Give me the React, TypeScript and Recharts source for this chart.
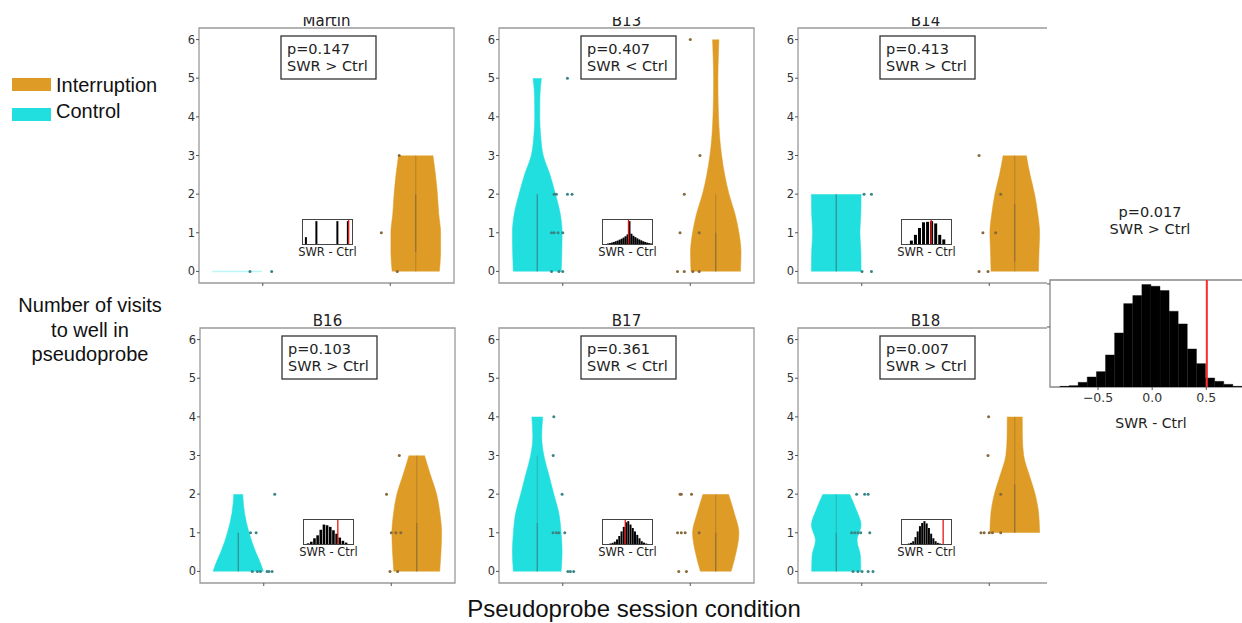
import React from "react";
import {
  Area,
  Bar,
  BarChart,
  ComposedChart,
  ReferenceArea,
  ReferenceLine,
  Scatter,
  XAxis,
  YAxis,
} from "recharts";

const ORANGE = "#de9b25";
const CYAN = "#21dfdf";
const CTRL_DOT = "#3a8585";
const INT_DOT = "#86693a";
const MPL_FONT = "'DejaVu Sans', sans-serif";
const SANS = "'Liberation Sans', Arial, sans-serif";

// ---- data ----
const animals = ["Martin", "B13", "B14", "B16", "B17", "B18"];
const pValues = ["p=0.147", "p=0.407", "p=0.413", "p=0.103", "p=0.361", "p=0.007"];
const directions = ["SWR > Ctrl", "SWR < Ctrl", "SWR > Ctrl", "SWR > Ctrl", "SWR < Ctrl", "SWR > Ctrl"];
const visitTicks = [0, 1, 2, 3, 4, 5, 6];

// violin half-widths, [visits, half width]
const ctrlProfiles: [number, number][][] = [
  [[0, 0.195]],
  [[0, 0.188], [0.5, 0.193], [1, 0.195], [1.5, 0.18], [2, 0.143], [2.5, 0.1], [3, 0.047], [3.5, 0.027], [4, 0.02], [4.5, 0.021], [5, 0.033]],
  [[0, 0.195], [0.5, 0.193], [1, 0.186], [1.5, 0.193], [2, 0.195]],
  [[0, 0.198], [0.25, 0.17], [0.5, 0.137], [1, 0.085], [1.5, 0.05], [2, 0.035]],
  [[0, 0.1875], [0.5, 0.195], [1, 0.1875], [1.5, 0.17], [2, 0.13], [2.5, 0.091], [3, 0.052], [3.5, 0.035], [4, 0.043]],
  [[0, 0.193], [0.4, 0.19], [0.8, 0.163], [1.2, 0.195], [1.6, 0.156], [2, 0.105]],
];
const intProfiles: [number, number][][] = [
  [[0, 0.185], [0.5, 0.195], [1, 0.195], [1.5, 0.18], [2, 0.17], [2.5, 0.155], [3, 0.135]],
  [[0, 0.194], [0.5, 0.198], [1, 0.182], [1.5, 0.15], [2, 0.104], [2.5, 0.07], [3, 0.046], [3.5, 0.03], [4, 0.022], [4.5, 0.018], [5, 0.017], [5.5, 0.02], [6, 0.025]],
  [[0, 0.186], [0.5, 0.19], [1, 0.195], [1.5, 0.18], [2, 0.156], [2.5, 0.12], [3, 0.091]],
  [[0, 0.18], [0.5, 0.19], [1, 0.195], [1.5, 0.182], [2, 0.156], [2.5, 0.107], [3, 0.061]],
  [[0, 0.12], [0.5, 0.16], [1, 0.182], [1.5, 0.146], [2, 0.1]],
  [[1, 0.195], [1.5, 0.1875], [2, 0.16], [2.5, 0.113], [3, 0.07], [3.5, 0.06], [4, 0.059]],
];

// inner whisker and box ranges
const ctrlWhisker = [[0, 0], [0, 2], [0, 2], [0, 1], [0, 3], [0, 2]];
const ctrlBox = [[0, 0], [0, 2], [0, 2], [0, 1], [0, 1.25], [0, 1]];
const intWhisker = [[0, 3], [0, 2], [0, 3], [0, 3], [0, 2], [1, 4]];
const intBox = [[0.5, 2], [0, 1], [0.25, 1.75], [0, 1.25], [0, 1], [1, 2.25]];

// strip plot points, [condition coordinate, visits]
const ctrlDots: [number, number][][] = [
  [[-0.1, 0], [0.07, 0]],
  [[0.037, 5], [-0.068, 2], [-0.05, 2], [0.037, 2], [0.073, 2], [-0.088, 1], [-0.068, 1], [-0.037, 1], [0, 1], [-0.088, 0], [-0.03, 0], [0, 0]],
  [[0.018, 2], [0.076, 2], [0.002, 0], [0.076, 0]],
  [[0.086, 2], [-0.104, 1], [-0.06, 1], [-0.09, 0], [-0.05, 0], [-0.026, 0], [0.026, 0], [0.04, 0], [0.065, 0]],
  [[-0.07, 4], [-0.075, 3], [-0.005, 2], [-0.076, 1], [-0.05, 1], [-0.031, 1], [0.016, 1], [0.04, 0], [0.06, 0], [0.086, 0]],
  [[-0.04, 2], [0.023, 2], [0.05, 2], [-0.08, 1], [-0.055, 1], [-0.03, 1], [-0.008, 1], [0.063, 1], [-0.068, 0], [-0.03, 0], [0.002, 0], [0.05, 0], [0.088, 0]],
];
const intDots: [number, number][][] = [
  [[0.93, 1], [1.055, 0], [1.07, 3]],
  [[1.0, 6], [1.076, 3], [0.953, 2], [0.92, 1], [1.07, 1], [0.9, 0], [0.953, 0], [1.02, 0], [1.07, 0]],
  [[0.92, 3], [1.09, 2], [0.95, 1], [1.05, 1], [0.92, 0], [0.99, 0]],
  [[1.063, 3], [0.963, 2], [1.0, 1], [1.036, 1], [1.075, 1], [0.99, 0], [1.05, 0]],
  [[0.92, 2], [0.93, 2], [1.01, 2], [0.9, 1], [0.93, 1], [0.96, 1], [1.07, 1], [0.91, 0], [0.97, 0]],
  [[0.995, 4], [0.99, 3], [1.09, 2], [0.935, 1], [0.96, 1], [1.0, 1], [1.025, 1], [1.09, 1]],
];

// small permutation histograms (bin index -> relative count)
const insetCounts = [
  [0.3, 1, 0, 1, 1],
  [0.02, 0.04, 0.06, 0.09, 0.12, 0.15, 0.19, 0.23, 0.28, 0.34, 0.42, 1.0, 0.45, 0.36, 0.3, 0.25, 0.2, 0.16, 0.12, 0.09, 0.06, 0.04, 0.02],
  [0.15, 0.4, 0.7, 0.95, 0.97, 1.0, 0.9, 0.4, 0.2],
  [0.03, 0.1, 0.25, 0.38, 0.62, 0.85, 0.82, 0.75, 0.6, 0.45, 0.28, 0.14, 0.06],
  [0.02, 0.05, 0.1, 0.2, 0.35, 0.55, 0.75, 0.95, 1.0, 0.85, 0.7, 0.55, 0.4, 0.25, 0.12, 0.06, 0.02],
  [0.02, 0.05, 0.12, 0.3, 0.55, 0.78, 0.92, 1.0, 0.9, 0.7, 0.45, 0.25, 0.12, 0.05, 0.02],
];
const insetObserved = [4.05, 10.5, 5, 9.3, 6.6, 15.3];
const insetRange: [number, number][] = [[-0.3, 4.37], [-2.5, 22.5], [-2.2, 9.9], [-1.4, 14.1], [-3.3, 18.5], [-3.06, 18.8]];

// pooled permutation histogram
const pooledBins = [-0.81, -0.726, -0.642, -0.558, -0.473, -0.389, -0.305, -0.221, -0.137, -0.053, 0.031, 0.115, 0.199, 0.283, 0.368, 0.452, 0.536, 0.62, 0.704, 0.788];
const pooledCounts = [2, 4, 14, 30, 46, 96, 162, 250, 274, 307, 302, 289, 227, 189, 114, 70, 27, 17, 8, 2];
const pooledObserved = 0.505;
const pooledTicks = [-0.5, 0, 0.5];
const pooledTitle = ["p=0.017", "SWR > Ctrl"];

// ---- layout ----
const FRAME = 255;
const AXIS_W = 30;
const X_AXIS_H = 6;
const CLIP_X = 1047;
const CTRL_X = -0.2;
const INT_X = 1.2;
const panelBoxes = [
  { left: 199, top: 28 },
  { left: 499, top: 28 },
  { left: 798, top: 28 },
  { left: 200, top: 328 },
  { left: 499, top: 328 },
  { left: 798, top: 328 },
];
const insetBarSize: (number | undefined)[] = [2, undefined, 3, 2.6, undefined, undefined];

const dotShape = (props: any) => (
  <circle cx={props.cx} cy={props.cy} r={1.5} fill={props.fill} />
);

function ViolinPanel({ index }: { index: number }) {
  const box = panelBoxes[index];
  const outerLeft = box.left - AXIS_W;
  const fullWidth = AXIS_W + FRAME + 2;
  const height = FRAME + X_AXIS_H + 2;
  const visibleWidth = Math.min(fullWidth, CLIP_X - outerLeft);

  const ctrl = ctrlProfiles[index];
  const intr = intProfiles[index];
  const ctrlData = ctrl.map(([y, w]) => ({ y, band: [CTRL_X - w, CTRL_X + w] }));
  const intData = intr.map(([y, w]) => ({ y, band: [INT_X - w, INT_X + w] }));
  const ctrlPts = ctrlDots[index].map(([x, y]) => ({ x, y }));
  const intPts = intDots[index].map(([x, y]) => ({ x, y }));

  const inner = (c: number, range: number[], width: number, opacity: number, key: string) =>
    range[1] > range[0] ? (
      <ReferenceLine
        key={key}
        segment={[{ x: c, y: range[0] }, { x: c, y: range[1] }]}
        stroke="#444"
        strokeWidth={width}
        strokeOpacity={opacity}
        ifOverflow="visible"
      />
    ) : null;

  return (
    <div
      style={{
        position: "absolute",
        left: outerLeft,
        top: box.top - 1,
        width: visibleWidth,
        height,
        overflow: "hidden",
      }}
    >
      <ComposedChart
        layout="vertical"
        width={fullWidth}
        height={height}
        margin={{ top: 1, right: 2, bottom: 1, left: 0 }}
      >
        <XAxis
          type="number"
          dataKey="x"
          domain={[-0.5, 1.5]}
          ticks={[0, 1]}
          tickFormatter={() => ""}
          tickSize={3}
          axisLine={false}
          tickLine={{ stroke: "#555" }}
          height={X_AXIS_H}
          allowDataOverflow
        />
        <YAxis
          type="number"
          dataKey="y"
          domain={[-0.3, 6.3]}
          ticks={visitTicks}
          reversed
          interval={0}
          width={AXIS_W}
          tickSize={3}
          tickMargin={1}
          axisLine={false}
          tickLine={{ stroke: "#555" }}
          tick={{ fill: "#333", fontSize: 11.5, fontFamily: MPL_FONT }}
          allowDataOverflow
        />
        <ReferenceArea
          x1={-0.5}
          x2={1.5}
          y1={-0.3}
          y2={6.3}
          fill="none"
          stroke="#9a9a9a"
          strokeWidth={1.3}
          ifOverflow="visible"
        />
        {ctrl.length > 1 ? (
          <Area
            data={ctrlData}
            dataKey="band"
            type="monotone"
            fill={CYAN}
            fillOpacity={1}
            stroke={CYAN}
            strokeWidth={0.5}
            dot={false}
            activeDot={false}
            isAnimationActive={false}
          />
        ) : (
          <ReferenceLine
            segment={[
              { x: CTRL_X - ctrl[0][1], y: ctrl[0][0] },
              { x: CTRL_X + ctrl[0][1], y: ctrl[0][0] },
            ]}
            stroke={CYAN}
            strokeOpacity={0.3}
            strokeWidth={1.5}
            ifOverflow="visible"
          />
        )}
        <Area
          data={intData}
          dataKey="band"
          type="monotone"
          fill={ORANGE}
          fillOpacity={1}
          stroke={ORANGE}
          strokeWidth={0.5}
          dot={false}
          activeDot={false}
          isAnimationActive={false}
        />
        {inner(CTRL_X, ctrlWhisker[index], 1, 0.28, "cw")}
        {inner(CTRL_X, ctrlBox[index], 1.2, 0.35, "cb")}
        {inner(INT_X, intWhisker[index], 1, 0.28, "iw")}
        {inner(INT_X, intBox[index], 1.2, 0.35, "ib")}
        <Scatter data={ctrlPts} fill={CTRL_DOT} shape={dotShape} isAnimationActive={false} />
        <Scatter data={intPts} fill={INT_DOT} shape={dotShape} isAnimationActive={false} />
      </ComposedChart>
    </div>
  );
}

function Inset({ index }: { index: number }) {
  const box = panelBoxes[index];
  const data = insetCounts[index].map((c, k) => ({ k, c }));
  return (
    <div
      style={{
        position: "absolute",
        left: box.left + 103,
        top: box.top + 191,
        width: 51,
        height: 26,
        border: "1px solid #444",
        boxSizing: "border-box",
        background: "#fff",
      }}
    >
      <BarChart
        width={49}
        height={24}
        data={data}
        margin={{ top: 0, right: 0, bottom: 0, left: 0 }}
        barCategoryGap={0}
        barGap={0}
      >
        <XAxis type="number" dataKey="k" domain={insetRange[index]} hide allowDataOverflow />
        <YAxis type="number" domain={[0, 1.05]} hide allowDataOverflow />
        <Bar dataKey="c" fill="#000" barSize={insetBarSize[index]} isAnimationActive={false} />
        <ReferenceLine x={insetObserved[index]} stroke="#ee1111" strokeWidth={1.3} ifOverflow="visible" />
      </BarChart>
    </div>
  );
}

function PooledHistogram() {
  const data = pooledBins.map((x, i) => ({ x, n: pooledCounts[i] }));
  const top = Math.max(...pooledCounts) * 1.045;
  const fmt = (v: number) => (v < 0 ? `\u2212${Math.abs(v).toFixed(1)}` : v.toFixed(1));
  return (
    <div
      style={{
        position: "absolute",
        left: 1040,
        top: 279,
        width: 202,
        height: 135,
        overflow: "hidden",
      }}
    >
      <BarChart
        width={215}
        height={133}
        data={data}
        margin={{ top: 1, right: 0, bottom: 0, left: 0 }}
        barCategoryGap={0}
        barGap={0}
      >
        <XAxis
          type="number"
          dataKey="x"
          domain={[-0.944, 0.95]}
          ticks={pooledTicks}
          interval={0}
          tickFormatter={fmt}
          tickSize={3}
          tickMargin={3}
          axisLine={false}
          tickLine={{ stroke: "#555" }}
          tick={{ fill: "#333", fontSize: 12.5, fontFamily: MPL_FONT }}
          height={25}
          allowDataOverflow
        />
        <YAxis
          type="number"
          domain={[0, top]}
          ticks={[180, 309]}
          tickFormatter={() => ""}
          width={10}
          tickSize={3}
          axisLine={false}
          tickLine={{ stroke: "#555" }}
          allowDataOverflow
        />
        <Bar dataKey="n" fill="#000" stroke="#000" strokeWidth={0.4} isAnimationActive={false} />
        <ReferenceArea
          x1={-0.944}
          x2={0.95}
          y1={0}
          y2={top}
          fill="none"
          stroke="#888"
          strokeWidth={1.3}
          ifOverflow="visible"
        />
        <ReferenceLine x={pooledObserved} stroke="#ff2a2a" strokeWidth={2} ifOverflow="visible" />
      </BarChart>
    </div>
  );
}

function Annotations() {
  return (
    <svg
      width={1242}
      height={623}
      style={{ position: "absolute", left: 0, top: 0, pointerEvents: "none" }}
    >
      <defs>
        <clipPath id="topcrop">
          <rect x={0} y={17} width={1242} height={606} />
        </clipPath>
      </defs>

      {/* legend */}
      <rect x={12} y={78} width={39} height={13} fill={ORANGE} />
      <text x={56} y={91.6} fontSize={20} fontFamily={SANS} fill="#111">Interruption</text>
      <rect x={12} y={108} width={39} height={13} fill={CYAN} />
      <text x={56} y={118.3} fontSize={20} fontFamily={SANS} fill="#111">Control</text>

      {/* shared axis labels */}
      <g fontSize={20} fontFamily={SANS} fill="#111" textAnchor="middle">
        <text x={90} y={312}>Number of visits</text>
        <text x={90} y={337}>to well in</text>
        <text x={90} y={361}>pseudoprobe</text>
      </g>
      <text x={634} y={617} fontSize={24} fontFamily={SANS} fill="#111" textAnchor="middle">
        Pseudoprobe session condition
      </text>

      {panelBoxes.map((b, i) => (
        <g key={animals[i]} fontFamily={MPL_FONT}>
          <text
            x={b.left + FRAME / 2}
            y={b.top - 2}
            fontSize={15}
            fill="#222"
            textAnchor="middle"
            clipPath="url(#topcrop)"
          >
            {animals[i]}
          </text>
          <rect
            x={b.left + 82}
            y={b.top + 8}
            width={95}
            height={43}
            fill="#fff"
            stroke="#333"
            strokeWidth={1.3}
          />
          <text x={b.left + 88} y={b.top + 26} fontSize={14.5} fill="#222">
            {pValues[i]}
          </text>
          <text x={b.left + 88} y={b.top + 42.7} fontSize={14.5} fill="#222">
            {directions[i]}
          </text>
          <text
            x={b.left + 128.5}
            y={b.top + 228}
            fontSize={11.5}
            fill="#222"
            textAnchor="middle"
          >
            SWR - Ctrl
          </text>
        </g>
      ))}

      {/* pooled histogram texts */}
      <g fontFamily={MPL_FONT} fill="#222" textAnchor="middle">
        <text x={1150} y={217} fontSize={14.5}>{pooledTitle[0]}</text>
        <text x={1150} y={234} fontSize={14.5}>{pooledTitle[1]}</text>
        <text x={1151} y={428} fontSize={14}>SWR - Ctrl</text>
      </g>
    </svg>
  );
}

export default function App() {
  return (
    <div
      style={{
        position: "absolute",
        left: 0,
        top: 0,
        width: 1242,
        height: 623,
        background: "#fff",
        overflow: "hidden",
      }}
    >
      {panelBoxes.map((_, i) => (
        <ViolinPanel key={`v${i}`} index={i} />
      ))}
      {panelBoxes.map((_, i) => (
        <Inset key={`h${i}`} index={i} />
      ))}
      <PooledHistogram />
      <Annotations />
    </div>
  );
}
